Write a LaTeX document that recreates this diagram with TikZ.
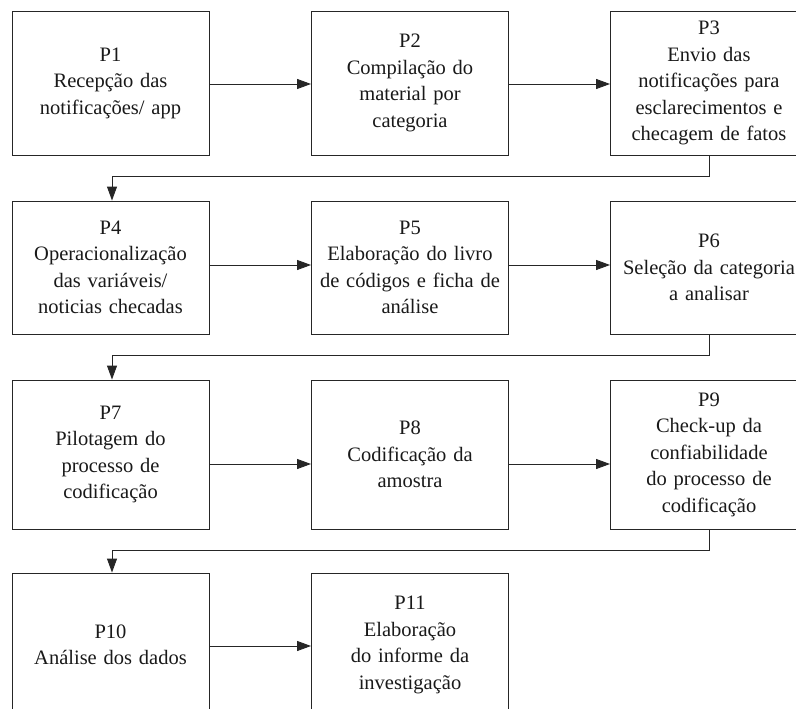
\documentclass[tikz,border=0pt]{standalone}
\usepackage{fontspec}
\setmainfont{Liberation Serif}
\usetikzlibrary{arrows.meta}
\begin{document}
\begin{tikzpicture}[x=1pt,y=-1pt,
  pbox/.style={draw=black!85,line width=0.9pt,rectangle,minimum width=197pt,inner sep=0pt,
    text width=190pt,align=center,font=\fontsize{20.5}{26.5}\selectfont,text=black!90},
  arr/.style={draw=black!85,line width=0.9pt,-{Triangle[length=14pt,width=10pt]}},
  conn/.style={draw=black!85,line width=0.9pt}]
\useasboundingbox (0,0) rectangle (796,709);
\clip (0,0) rectangle (796,709);
% row 1
\node[pbox,minimum height=144pt] (P1) at (110.5,83) {P1\\Recepção das\\notificações/ app};
\node[pbox,minimum height=144pt] (P2) at (410,83) {P2\\Compilação do\\material por\\categoria};
\node[pbox,minimum height=144pt] (P3) at (709,83) {P3\\Envio das\\notificações para\\esclarecimentos e\\checagem de fatos};
% row 2
\node[pbox,minimum height=133pt] (P4) at (110.5,267.5) {P4\\Operacionalização\\das variáveis/\\noticias checadas};
\node[pbox,minimum height=133pt] (P5) at (410,267.5) {P5\\Elaboração do livro\\de códigos e ficha de\\análise};
\node[pbox,minimum height=133pt] (P6) at (709,267.5) {P6\\Seleção da categoria\\a analisar};
% row 3
\node[pbox,minimum height=149pt] (P7) at (110.5,454.5) {P7\\Pilotagem do\\processo de\\codificação};
\node[pbox,minimum height=149pt] (P8) at (410,454.5) {P8\\Codificação da\\amostra};
\node[pbox,minimum height=149pt] (P9) at (709,454.5) {P9\\Check-up da\\confiabilidade\\do processo de\\codificação};
% row 4
\node[pbox,minimum height=144pt] (P10) at (110.5,645) {P10\\Análise dos dados};
\node[pbox,minimum height=144pt] (P11) at (410,645) {P11\\Elaboração\\do informe da\\investigação};
% horizontal arrows
\draw[arr] ([yshift=-1pt]P1.east) -- ([yshift=-1pt]P2.west);
\draw[arr] ([yshift=-1pt]P2.east) -- ([yshift=-1pt]P3.west);
\draw[arr] ([yshift=2.5pt]P4.east) -- ([yshift=2.5pt]P5.west);
\draw[arr] ([yshift=2.5pt]P5.east) -- ([yshift=2.5pt]P6.west);
\draw[arr] ([yshift=-9.5pt]P7.east) -- ([yshift=-9.5pt]P8.west);
\draw[arr] ([yshift=-9.5pt]P8.east) -- ([yshift=-9.5pt]P9.west);
\draw[arr] ([yshift=-1pt]P10.east) -- ([yshift=-1pt]P11.west);
% row-change connectors
\draw[arr] (P3.south) -- ++(0,21) -| ([xshift=1.5pt]P4.north);
\draw[arr] (P6.south) -- ++(0,21) -| ([xshift=1.5pt]P7.north);
\draw[arr] (P9.south) -- ++(0,21) -| ([xshift=1.5pt]P10.north);
\end{tikzpicture}
\end{document}
